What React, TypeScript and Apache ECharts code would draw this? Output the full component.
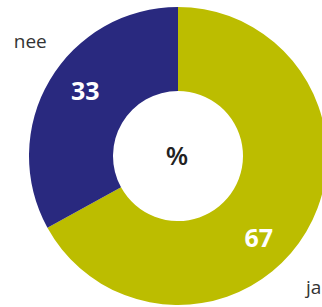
import React, { useEffect, useRef } from "react";
import * as echarts from "echarts";

const categories = ["ja", "nee"];
const values = [67, 33];
const colors = ["#bcbd00", "#29297f"];
const centerLabel = "%";

// label nudges (px) for value labels and name labels
const valueOffsets = [[-14, 25], [2, -10]];
const nameOffsets = [[69, 92], [-81, -76]];

export default function App() {
  const ref = useRef<HTMLDivElement>(null);
  useEffect(() => {
    document.body.style.margin = "0";
    const chart = echarts.init(ref.current!, null, { renderer: "svg" });
    const data = categories.map((name, i) => ({
      name,
      value: values[i],
      itemStyle: { color: colors[i] },
    }));
    chart.setOption({
      animation: false,
      backgroundColor: "#ffffff",
      graphic: [
        {
          type: "text",
          x: 177,
          y: 155,
          style: {
            text: centerLabel,
            fontFamily: "Open Sans",
            fontSize: 26,
            fontWeight: 600,
            fill: "#222222",
            align: "center",
            verticalAlign: "middle",
          },
        },
      ],
      series: [
        {
          type: "pie",
          center: [178, 156],
          radius: [65, 149],
          startAngle: 90,
          clockwise: true,
          silent: true,
          data,
          label: {
            show: true,
            position: "inside",
            formatter: "{c}",
            color: "#ffffff",
            fontFamily: "Open Sans",
            fontWeight: "bold",
            fontSize: 25,
          },
          labelLine: { show: false },
          labelLayout: (p: any) => ({
            dx: valueOffsets[p.dataIndex][0],
            dy: valueOffsets[p.dataIndex][1],
          }),
        },
        {
          type: "pie",
          center: [178, 156],
          radius: [0, 149],
          startAngle: 90,
          clockwise: true,
          silent: true,
          z: 1,
          data: categories.map((name, i) => ({
            name,
            value: values[i],
            itemStyle: { color: "rgba(0,0,0,0)" },
          })),
          label: {
            show: true,
            position: "inside",
            formatter: "{b}",
            color: "#333333",
            fontFamily: "Open Sans",
            fontSize: 19,
          },
          labelLine: { show: false },
          labelLayout: (p: any) => ({
            dx: nameOffsets[p.dataIndex][0],
            dy: nameOffsets[p.dataIndex][1],
          }),
        },
      ],
    });
    return () => chart.dispose();
  }, []);
  return (
    <div
      ref={ref}
      style={{ position: "fixed", left: 0, top: 0, width: 322, height: 307 }}
    />
  );
}
